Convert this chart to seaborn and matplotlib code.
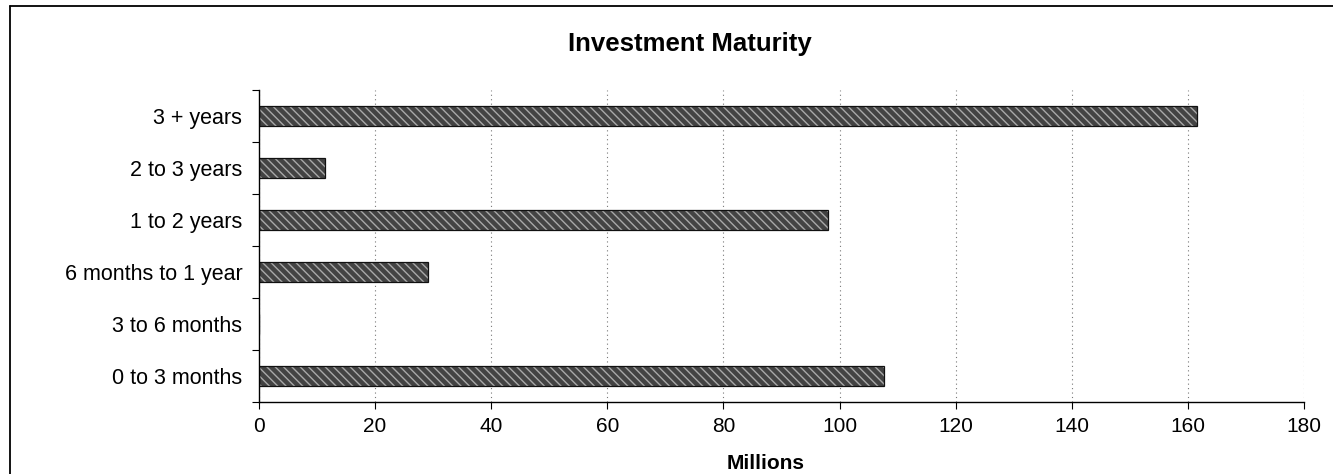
import matplotlib
matplotlib.use("Agg")
import matplotlib.pyplot as plt
import seaborn as sns
import pandas as pd
from matplotlib.patches import Rectangle
from matplotlib.lines import Line2D

categories = ["3 + years", "2 to 3 years", "1 to 2 years",
              "6 months to 1 year", "3 to 6 months", "0 to 3 months"]
values = [161.6, 11.4, 98.0, 29.1, 0.0, 107.6]
x_ticks = [0, 20, 40, 60, 80, 100, 120, 140, 160, 180]

sns.set_theme(style="white")
plt.rcParams["font.family"] = ["Liberation Sans", "DejaVu Sans"]
plt.rcParams["text.color"] = "black"
plt.rcParams["xtick.color"] = "black"
plt.rcParams["ytick.color"] = "black"
plt.rcParams["axes.labelcolor"] = "black"

df = pd.DataFrame({"maturity": categories, "millions": values})

fig = plt.figure(figsize=(13.33, 4.74), dpi=100)
ax = fig.add_axes([0.1943, 0.1519, 0.7839, 0.6582])

sns.barplot(data=df, x="millions", y="maturity", order=categories,
            orient="h", width=0.4, color="#434343", ax=ax)
for bar in list(ax.patches):
    bar.set_hatch("\\\\\\\\")
    bar.set_edgecolor("#a8a8a8")
    bar.set_linewidth(0)
    # dark outline around each bar
    ax.add_patch(Rectangle(bar.get_xy(), bar.get_width(), bar.get_height(),
                           fill=False, edgecolor="#111111", linewidth=0.9,
                           zorder=bar.get_zorder() + 0.1))

ax.set_xlim(0, 180)
ax.set_ylim(5.5, -0.5)
ax.set_xticks(x_ticks)
ax.set_xticklabels([str(t) for t in x_ticks], fontsize=15)
ax.set_yticks(range(len(categories)))
ax.set_yticklabels(categories, fontsize=15.5)
ax.set_yticks([i - 0.5 for i in range(len(categories) + 1)], minor=True)
ax.tick_params(axis="y", which="major", length=0, pad=12)
ax.tick_params(axis="y", which="minor", length=5, width=0.8, color="black",
               direction="out", left=True)
ax.tick_params(axis="x", which="major", length=5, width=0.8, color="black",
               direction="out", bottom=True, pad=6)

ax.set_axisbelow(True)
ax.grid(axis="x", linestyle=(0, (1, 3)), color="#777777", linewidth=0.8)
ax.grid(axis="y", visible=False)

for side in ["top", "right"]:
    ax.spines[side].set_visible(False)
for side in ["left", "bottom"]:
    ax.spines[side].set_color("black")
    ax.spines[side].set_linewidth(1.0)

ax.set_ylabel("")
ax.set_xlabel("Millions", fontsize=15, fontweight="bold")
ax.xaxis.label.set_va("center")
ax.xaxis.set_label_coords(0.485, -0.196)
fig.text(0.5176, 0.907, "Investment Maturity", ha="center", va="center",
         fontsize=18.5, fontweight="bold")

# chart frame: left and top edges
fig.add_artist(Line2D([10 / 1333, 10 / 1333], [0, 1 - 6 / 474],
                      transform=fig.transFigure, color="black", linewidth=1.3))
fig.add_artist(Line2D([10 / 1333, 1], [1 - 6 / 474, 1 - 6 / 474],
                      transform=fig.transFigure, color="black", linewidth=1.3))

fig.savefig("out.png", dpi=100, facecolor="white")
